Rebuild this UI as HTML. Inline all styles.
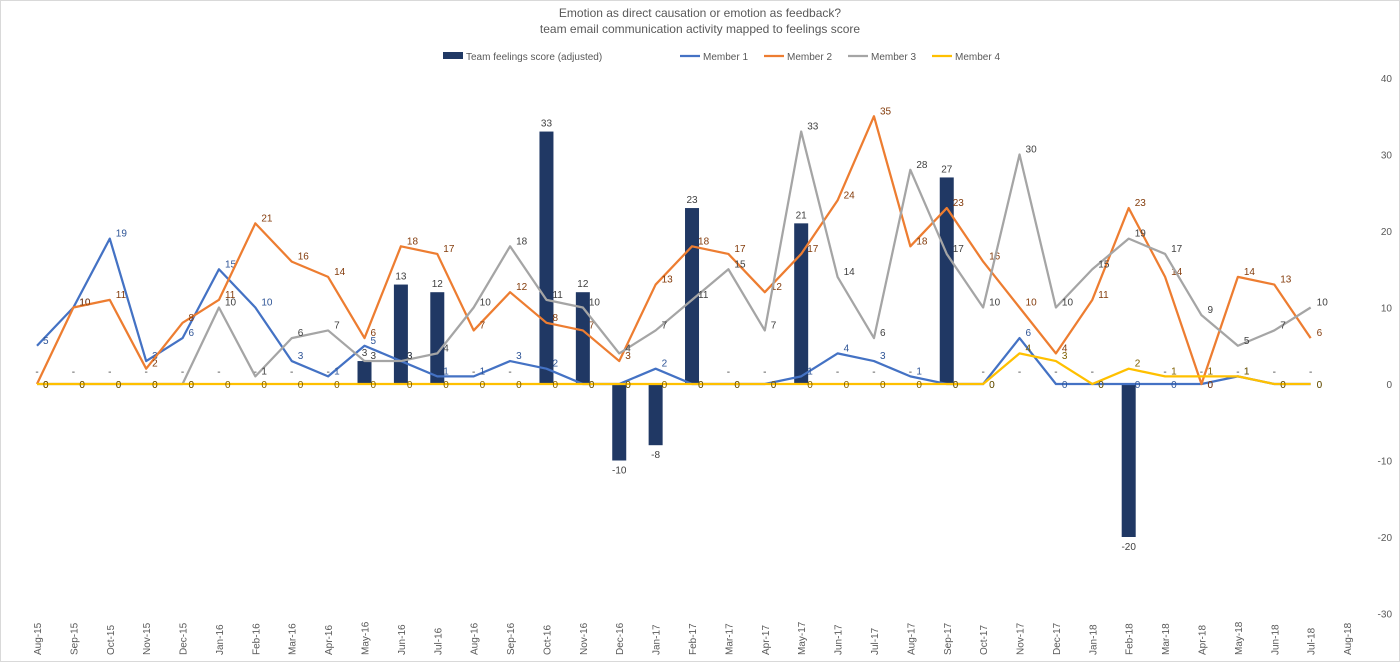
<!DOCTYPE html>
<html><head><meta charset="utf-8"><style>
body{margin:0;background:#fff;}
svg{display:block;font-family:"Liberation Sans",sans-serif;}
</style></head><body>
<svg id="chart" width="1400" height="662">
<rect x="0.5" y="0.5" width="1399" height="661" fill="#fff" stroke="#d9d9d9"/>
<text x="700" y="17" text-anchor="middle" font-size="12" fill="#595959">Emotion as direct causation or emotion as feedback?</text>
<text x="700" y="33" text-anchor="middle" font-size="12" fill="#595959">team email communication activity mapped to feelings score</text>
<g id="legend"></g>
<g id="plot"></g>
</svg>
<script>
const categories=["Aug-15","Sep-15","Oct-15","Nov-15","Dec-15","Jan-16","Feb-16","Mar-16","Apr-16","May-16","Jun-16","Jul-16","Aug-16","Sep-16","Oct-16","Nov-16","Dec-16","Jan-17","Feb-17","Mar-17","Apr-17","May-17","Jun-17","Jul-17","Aug-17","Sep-17","Oct-17","Nov-17","Dec-17","Jan-18","Feb-18","Mar-18","Apr-18","May-18","Jun-18","Jul-18","Aug-18"];
const teamScore=[0,0,0,0,0,0,0,0,0,3,13,12,0,0,33,12,-10,-8,23,0,0,21,0,0,0,27,0,0,0,0,-20,0,0,0,0,0];
const member1=[5,10,19,3,6,15,10,3,1,5,3,1,1,3,2,0,0,2,0,0,0,1,4,3,1,0,0,6,0,0,0,0,0,1,0,0];
const member2=[0,10,11,2,8,11,21,16,14,6,18,17,7,12,8,7,3,13,18,17,12,17,24,35,18,23,16,10,4,11,23,14,0,14,13,6];
const member3=[0,0,0,0,0,10,1,6,7,3,3,4,10,18,11,10,4,7,11,15,7,33,14,6,28,17,10,30,10,15,19,17,9,5,7,10];
const member4=[0,0,0,0,0,0,0,0,0,0,0,0,0,0,0,0,0,0,0,0,0,0,0,0,0,0,0,4,3,0,2,1,1,1,0,0];
const yTicks=[40,30,20,10,0,-10,-20,-30];

const NS="http://www.w3.org/2000/svg";
const plot=document.getElementById('plot');
const legend=document.getElementById('legend');
const x0=37, step=36.39;
const X=i=>x0+i*step;
const Y=v=>384-v*7.65;
function mk(tag,attrs,parent){const e=document.createElementNS(NS,tag);for(const k in attrs)e.setAttribute(k,attrs[k]);parent.appendChild(e);return e;}

yTicks.forEach(t=>{
  const e=mk('text',{x:1392,y:Y(t)+4,'text-anchor':'end','font-size':10,fill:'#595959'},plot);
  
  
  e.textContent=t;
});
categories.forEach((c,i)=>{
  const e=mk('text',{x:0,y:0,'text-anchor':'start','font-size':10,fill:'#595959',transform:`translate(${X(i)+4},655) rotate(-90)`},plot);
  
  
  e.textContent=c;
});
teamScore.forEach((v,i)=>{
  const y=Math.min(Y(v),Y(0)),h=Math.abs(Y(v)-Y(0));
  if(v!==0){
    const r=mk('rect',{x:X(i)-7,y:y,width:14,height:h,fill:'#203864'},plot);
    
    
  }
  const t=mk('text',{x:X(i),y:v>0?Y(v)-5:(v<0?Y(v)+13:Y(0)-9),'text-anchor':'middle','font-size':10,fill:'#404040'},plot);
  
  
  t.textContent=v===0?'-':v;
});
const series=[[member1,'#4472C4','#2F5597','member-1'],[member2,'#ED7D31','#843C0C','member-2'],[member3,'#A5A5A5','#404040','member-3'],[member4,'#FFC000','#7F6000','member-4']];
series.forEach(([d,col,lc,name])=>{
  const p=mk('polyline',{points:d.map((v,i)=>X(i)+','+Y(v)).join(' '),fill:'none',stroke:col,'stroke-width':2.25,'stroke-linejoin':'round'},plot);
  
  
  d.forEach((v,i)=>{
    const t=mk('text',{x:X(i)+6,y:Y(v)+(v===0?4:-2),'font-size':10,fill:lc},plot);
    
    
    t.textContent=v;
  });
});
const items=[['Team feelings score (adjusted)','#203864',true,443],['Member 1','#4472C4',false,680],['Member 2','#ED7D31',false,764],['Member 3','#A5A5A5',false,848],['Member 4','#FFC000',false,932]];
items.forEach(([lab,col,bar,x])=>{
  const g=mk('g',{},legend);
  
  
  if(bar) mk('rect',{x:x,y:52,width:20,height:7,fill:col},g);
  else mk('line',{x1:x,y1:56,x2:x+20,y2:56,stroke:col,'stroke-width':2.25},g);
  const t=mk('text',{x:x+23,y:60,'font-size':10,fill:'#595959'},g);
  t.textContent=lab;
});
</script>
</body></html>
